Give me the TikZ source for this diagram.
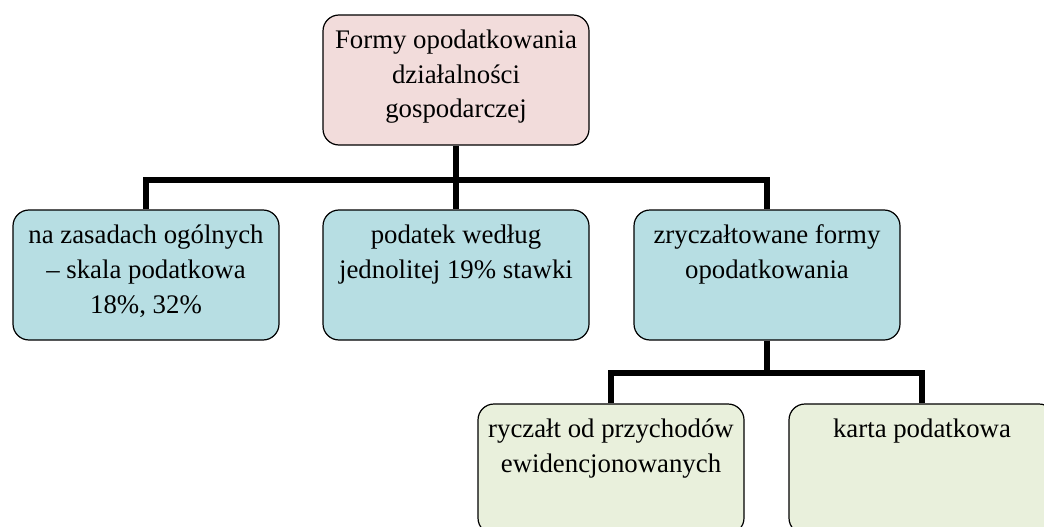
\documentclass[tikz,border=0pt]{standalone}
\usepackage{fontspec}
\setmainfont{Liberation Serif}
\definecolor{pinkfill}{HTML}{F2DCDB}
\definecolor{bluefill}{HTML}{B7DEE3}
\definecolor{greenfill}{HTML}{E9F0DC}
\newcommand\bt[1]{\parbox[c][130pt][t]{258pt}{\vspace*{8.5pt}\centering\strut #1\par}}
\tikzset{
  box/.style={draw=black, line width=1.2pt, rounded corners=16pt, inner sep=0pt,
    minimum width=266pt, minimum height=130pt, font=\fontsize{26.8}{35}\selectfont},
  conn/.style={draw=black, line width=6.5pt}
}
\begin{document}
\begin{tikzpicture}[x=1pt,y=-1pt]
\useasboundingbox (0,0) rectangle (1044,527);
\clip (0,0) rectangle (1044,527);
\coordinate (b1) at (0,180);
\coordinate (b2) at (0,373);
\node[box, fill=pinkfill] (top) at (456,80) {\bt{Formy opodatkowania\\działalności\\gospodarczej}};
\node[box, fill=bluefill] (L1) at (146,275) {\bt{na zasadach ogólnych\\– skala podatkowa\\18\%, 32\%}};
\node[box, fill=bluefill] (M1) at (456,275) {\bt{podatek według\\jednolitej 19\% stawki}};
\node[box, fill=bluefill] (R1) at (767,275) {\bt{zryczałtowane formy\\opodatkowania}};
\node[box, fill=greenfill] (L2) at (611,469) {\bt{ryczałt od przychodów\\ewidencjonowanych}};
\node[box, fill=greenfill] (R2) at (922,469) {\bt{karta podatkowa}};
\draw[conn] (top.south) -- (M1.north);
\draw[conn] (L1.north) -- (L1.north |- b1) -- (R1.north |- b1) -- (R1.north);
\draw[conn] (R1.south) -- (R1.south |- b2);
\draw[conn] (L2.north) -- (L2.north |- b2) -- (R2.north |- b2) -- (R2.north);
\end{tikzpicture}
\end{document}
